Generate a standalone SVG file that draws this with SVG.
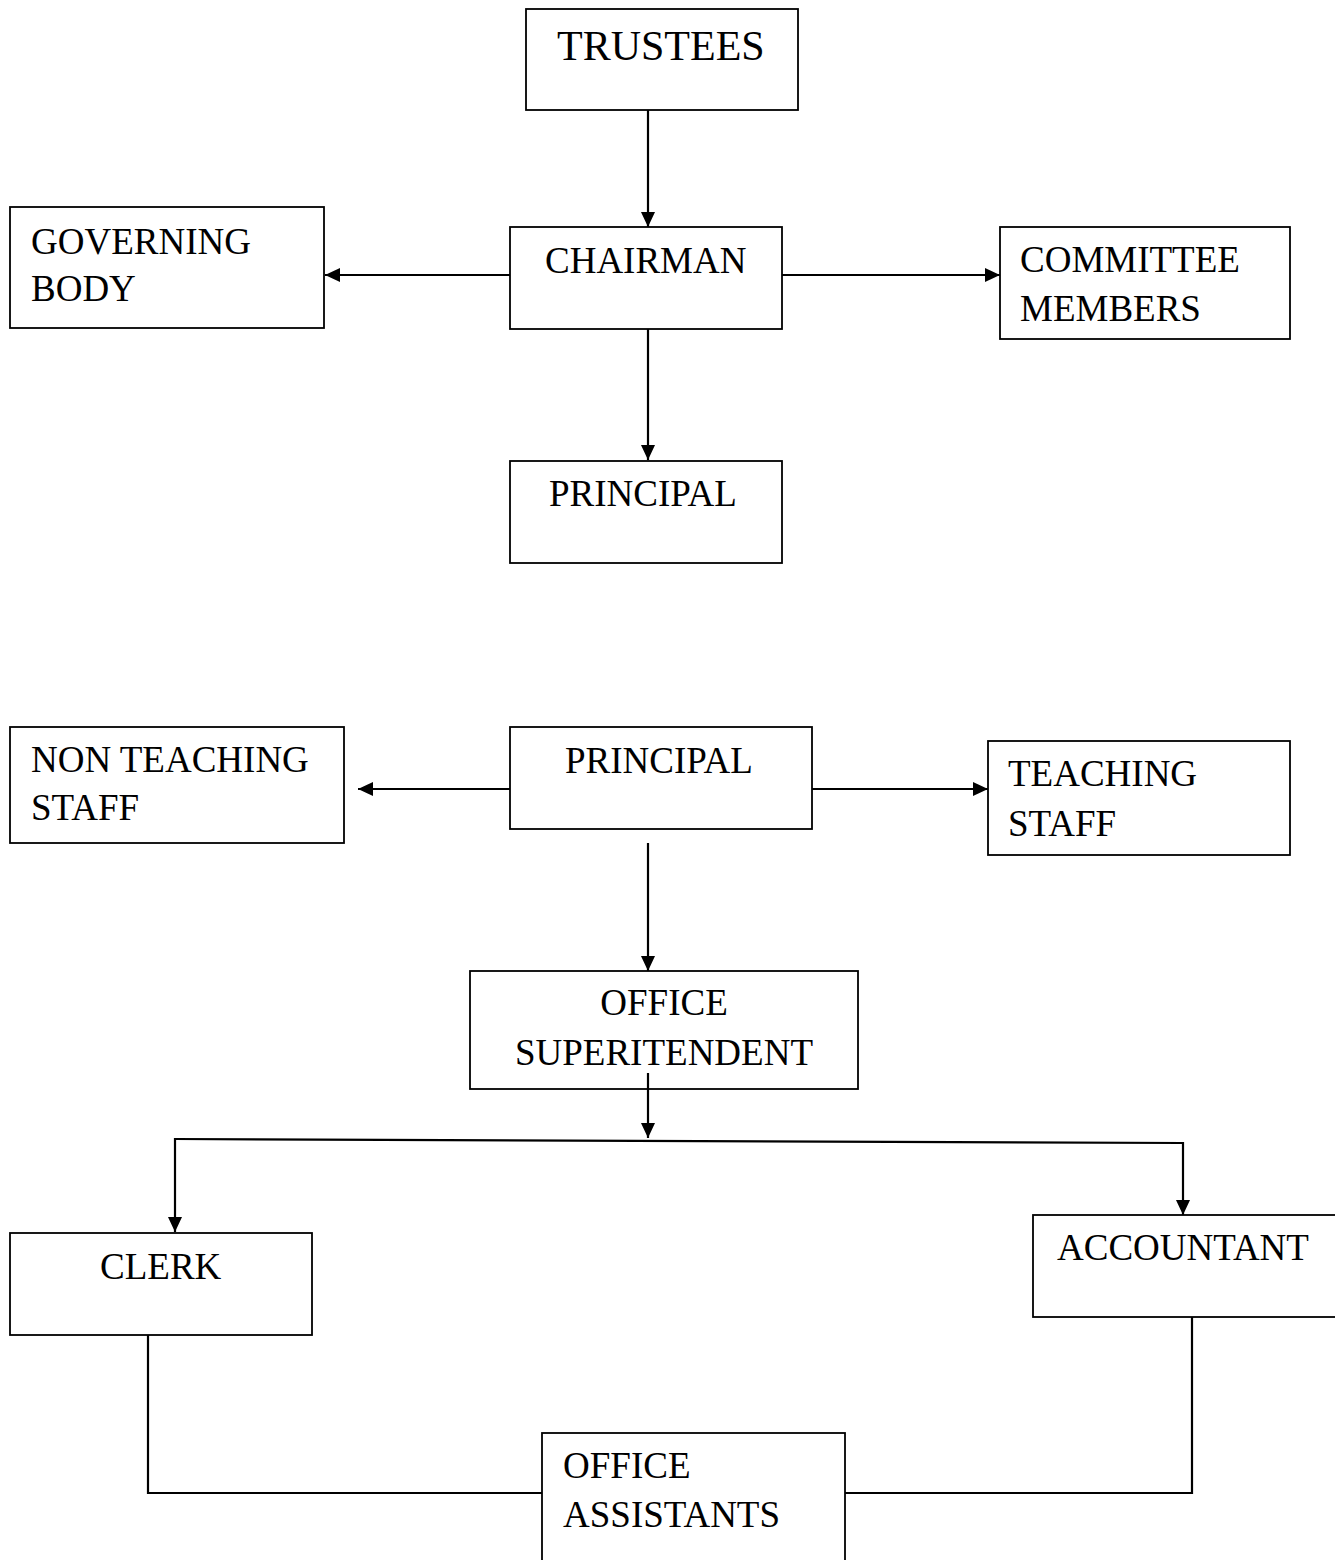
<svg xmlns="http://www.w3.org/2000/svg" width="1335" height="1560" viewBox="0 0 1335 1560">
<style>
.box{fill:#fff;stroke:#000;stroke-width:1.8}
.t{font-family:"Liberation Serif","Times New Roman",serif;font-size:37px;fill:#000}
.big{font-size:42px}
.c{stroke:#000;stroke-width:2.2;fill:none}
</style>
<defs>
<marker id="ah" markerUnits="userSpaceOnUse" markerWidth="16" markerHeight="14" refX="15" refY="7" orient="auto">
<path d="M0,0 L15,7 L0,14 Z" fill="#000"/>
</marker>
</defs>
<rect width="1335" height="1560" fill="#fff"/>
<g id="trustees"><rect class="box" x="526" y="9" width="272" height="101"/><text class="t big" x="557" y="60">TRUSTEES</text></g>
<g id="chairman"><rect class="box" x="510" y="227" width="272" height="102"/><text class="t" x="545" y="273">CHAIRMAN</text></g>
<g id="governing-body"><rect class="box" x="10" y="207" width="314" height="121"/><text class="t" x="31" y="254">GOVERNING</text><text class="t" x="31" y="301">BODY</text></g>
<g id="committee-members"><rect class="box" x="1000" y="227" width="290" height="112"/><text class="t" x="1020" y="272">COMMITTEE</text><text class="t" x="1020" y="321">MEMBERS</text></g>
<g id="principal-1"><rect class="box" x="510" y="461" width="272" height="102"/><text class="t" x="549" y="506">PRINCIPAL</text></g>
<g id="principal-2"><rect class="box" x="510" y="727" width="302" height="102"/><text class="t" x="565" y="773">PRINCIPAL</text></g>
<g id="non-teaching-staff"><rect class="box" x="10" y="727" width="334" height="116"/><text class="t" x="31" y="772">NON TEACHING</text><text class="t" x="31" y="820">STAFF</text></g>
<g id="teaching-staff"><rect class="box" x="988" y="741" width="302" height="114"/><text class="t" x="1008" y="786">TEACHING</text><text class="t" x="1008" y="836">STAFF</text></g>
<g id="office-superintendent"><rect class="box" x="470" y="971" width="388" height="118"/><text class="t" x="664" y="1015" text-anchor="middle">OFFICE</text><text class="t" x="664" y="1065" text-anchor="middle">SUPERITENDENT</text></g>
<g id="clerk"><rect class="box" x="10" y="1233" width="302" height="102"/><text class="t" x="100" y="1279">CLERK</text></g>
<g id="accountant"><rect class="box" x="1033" y="1215" width="310" height="102"/><text class="t" x="1057" y="1260">ACCOUNTANT</text></g>
<g id="office-assistants"><rect class="box" x="542" y="1433" width="303" height="140"/><text class="t" x="563" y="1478">OFFICE</text><text class="t" x="563" y="1527">ASSISTANTS</text></g>
<g id="connectors">
<line class="c" x1="648" y1="110" x2="648" y2="227" marker-end="url(#ah)"/>
<line class="c" x1="510" y1="275" x2="325" y2="275" marker-end="url(#ah)"/>
<line class="c" x1="782" y1="275" x2="1000" y2="275" marker-end="url(#ah)"/>
<line class="c" x1="648" y1="329" x2="648" y2="460" marker-end="url(#ah)"/>
<line class="c" x1="510" y1="789" x2="358" y2="789" marker-end="url(#ah)"/>
<line class="c" x1="812" y1="789" x2="988" y2="789" marker-end="url(#ah)"/>
<line class="c" x1="648" y1="843" x2="648" y2="971" marker-end="url(#ah)"/>
<line class="c" x1="648" y1="1073" x2="648" y2="1138" marker-end="url(#ah)"/>
<line class="c" x1="175" y1="1139" x2="1183" y2="1143"/>
<line class="c" x1="175" y1="1138" x2="175" y2="1232" marker-end="url(#ah)"/>
<line class="c" x1="1183" y1="1142" x2="1183" y2="1215" marker-end="url(#ah)"/>
<polyline class="c" points="148,1335 148,1493 542,1493"/>
<polyline class="c" points="1192,1317 1192,1493 845,1493"/>
</g>
</svg>
